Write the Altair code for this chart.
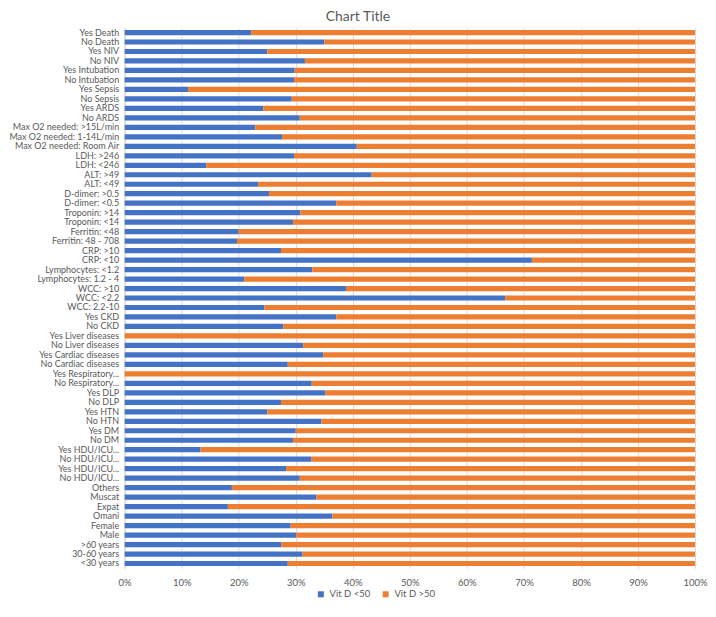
import json
import altair as alt
import pandas as pd

categories = [
    "Yes Death", "No Death", "Yes NIV", "No NIV", "Yes Intubation", "No Intubation",
    "Yes Sepsis", "No Sepsis", "Yes ARDS", "No ARDS",
    "Max O2 needed: >15L/min", "Max O2 needed: 1-14L/min", "Max O2 needed: Room Air",
    "LDH: >246", "LDH: <246", "ALT: >49", "ALT: <49", "D-dimer: >0.5", "D-dimer: <0.5",
    "Troponin: >14", "Troponin: <14", "Ferritin: <48", "Ferritin: 48 - 708",
    "CRP: >10", "CRP: <10", "Lymphocytes: <1.2", "Lymphocytes: 1.2 - 4",
    "WCC: >10", "WCC: <2.2", "WCC: 2.2-10", "Yes CKD", "No CKD",
    "Yes Liver diseases", "No Liver diseases", "Yes Cardiac diseases", "No Cardiac diseases",
    "Yes Respiratory...", "No Respiratory...", "Yes DLP", "No DLP", "Yes HTN", "No HTN",
    "Yes DM", "No DM", "Yes HDU/ICU...", "No HDU/ICU...", "Yes HDU/ICU...", "No HDU/ICU...",
    "Others", "Muscat", "Expat", "Omani", "Female", "Male",
    ">60 years", "30-60 years", "<30 years",
]

# share (%) with Vit D <50 for each category, top to bottom
vit_d_below_50 = [
    22.2, 35.0, 25.0, 31.6, 29.8, 29.7,
    11.1, 29.3, 24.3, 30.7,
    22.9, 27.6, 40.7,
    29.7, 14.3, 43.3, 23.4, 25.3, 37.1,
    30.8, 29.5, 20.0, 19.7,
    27.4, 71.4, 32.9, 21.0,
    38.8, 66.7, 24.5, 37.1, 27.8,
    0.0, 31.3, 34.8, 28.6,
    0.0, 32.8, 35.2, 27.4, 25.0, 34.5,
    30.0, 29.5, 13.3, 32.7, 28.3, 30.7,
    18.8, 33.6, 18.1, 36.4, 29.1, 30.1,
    27.5, 31.2, 28.6,
]

series = ["Vit D <50", "Vit D >50"]
colors = ["#4472C4", "#ED7D31"]
ticks = [0, 0.1, 0.2, 0.3, 0.4, 0.5, 0.6, 0.7, 0.8, 0.9, 1.0]

rows = []
for i, (c, v) in enumerate(zip(categories, vit_d_below_50)):
    rows.append({"idx": i, "cat": c, "series": series[0], "value": v / 100, "ord": 0})
    rows.append({"idx": i, "cat": c, "series": series[1], "value": (100 - v) / 100, "ord": 1})
df = pd.DataFrame(rows)

label_expr = "[" + ",".join(json.dumps(c) for c in categories) + "][datum.value]"
FONT = "Lato"
GREY = "#595959"
H = 542
W = 572

chart = alt.Chart(df).mark_bar().encode(
    y=alt.Y(
        "idx:O",
        scale=alt.Scale(paddingInner=0.45, paddingOuter=0.225),
        axis=alt.Axis(
            title=None, labelExpr=label_expr, ticks=False, domain=True,
            domainColor="#D9D9D9", labelColor=GREY, labelFontSize=9,
            labelFont=FONT, labelPadding=6, labelLimit=300, grid=False,
        ),
    ),
    x=alt.X(
        "value:Q",
        stack="zero",
        scale=alt.Scale(domain=[0, 1], nice=False, clamp=True),
        axis=alt.Axis(
            title=None, format=".0%", values=ticks, grid=True, gridColor="#D9D9D9",
            domain=False, ticks=False, labelColor=GREY, labelFontSize=9.5,
            labelFont=FONT, labelPadding=9, labelFlush=False,
        ),
    ),
    color=alt.Color(
        "series:N",
        scale=alt.Scale(domain=series, range=colors),
        legend=alt.Legend(
            title=None, orient="none", legendX=192, legendY=H + 21, direction="horizontal",
            symbolType="square", symbolSize=36, symbolStrokeWidth=0,
            labelFontSize=9.5, labelFont=FONT, labelColor=GREY, columnPadding=10,
        ),
    ),
    order=alt.Order("ord:Q"),
).properties(
    width=W,
    height=H,
    title=alt.TitleParams(
        "Chart Title", fontSize=14, color=GREY, fontWeight="normal", font=FONT,
        anchor="middle", frame="bounds", offset=4,
    ),
    padding={"left": 0, "top": 1, "right": 0, "bottom": 0},
).configure_view(stroke=None)

chart.save("out.html", embed_options={"renderer": "svg", "actions": False})
